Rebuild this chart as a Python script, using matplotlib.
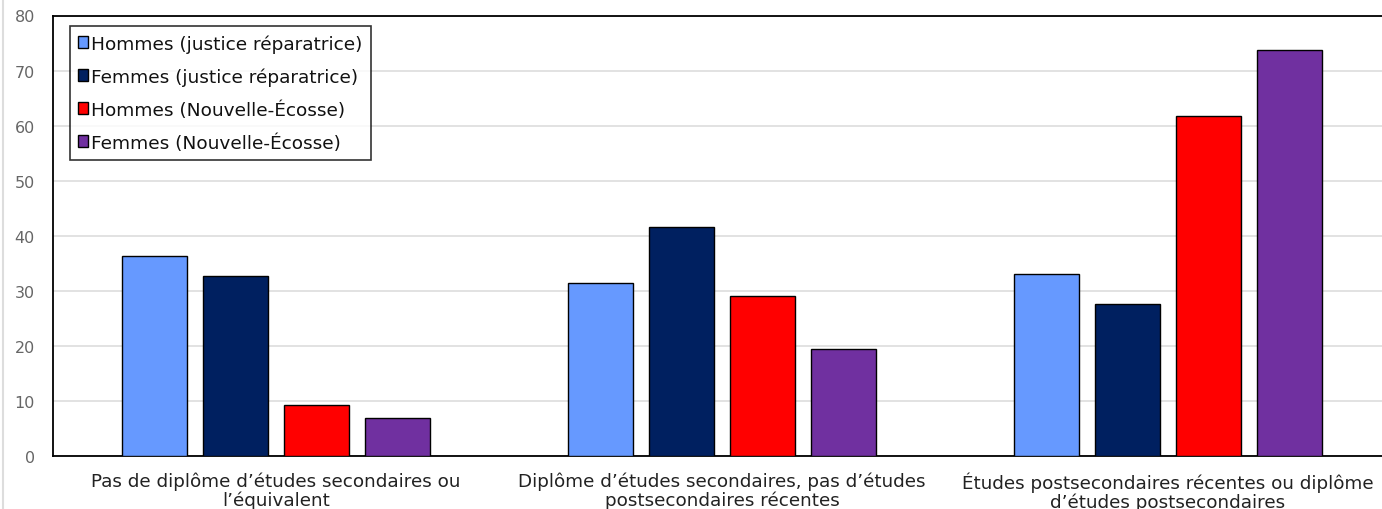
import matplotlib.pyplot as plt
import numpy as np
from matplotlib.lines import Line2D

# Niveau de scolarité (%)
categories = [
    "Pas de diplôme d\u2019études secondaires ou\nl\u2019équivalent",
    "Diplôme d\u2019études secondaires, pas d\u2019études\npostsecondaires récentes",
    "Études postsecondaires récentes ou diplôme\nd\u2019études postsecondaires",
]
series_names = [
    "Hommes (justice réparatrice)",
    "Femmes (justice réparatrice)",
    "Hommes (Nouvelle-Écosse)",
    "Femmes (Nouvelle-Écosse)",
]
hommes_jr = [36.4, 31.5, 33.1]
femmes_jr = [32.7, 41.5, 27.6]
hommes_ne = [9.3, 29.1, 61.8]
femmes_ne = [6.9, 19.5, 73.8]
yticks = [0, 10, 20, 30, 40, 50, 60, 70, 80]

series = [hommes_jr, femmes_jr, hommes_ne, femmes_ne]
colors = ["#6699FF", "#002060", "#FF0000", "#7030A0"]

plt.rcParams['font.family'] = ['DejaVu Sans']

fig = plt.figure(figsize=(13.82, 5.10), dpi=100)
ax = fig.add_axes([53 / 1382, 1 - 457 / 510, 1338 / 1382, 440.5 / 510])

x = np.arange(len(categories))
step = 0.1816
width = 0.146
for i, (vals, col, name) in enumerate(zip(series, colors, series_names)):
    ax.bar(x + (i - 1.5) * step, vals, width, color=col, edgecolor='black',
           linewidth=1.0, label=name, zorder=3)

ax.set_xlim(-0.5, 2.5)
ax.set_ylim(0, 80)
ax.set_yticks(yticks)
ax.set_xticks(x)
ax.set_xticklabels(categories, fontsize=13.2, color='#222222', linespacing=1.02)
ax.tick_params(axis='y', length=0, labelsize=11.5, labelcolor='#666666', pad=13)
ax.tick_params(axis='x', length=0, pad=11)
ax.grid(axis='y', color='#DDDDDD', linewidth=1.2, zorder=0)
ax.set_axisbelow(True)

for side in ['left', 'bottom', 'top']:
    ax.spines[side].set_color('black')
    ax.spines[side].set_linewidth(1.3)
ax.spines['right'].set_visible(False)

leg = ax.legend(loc='upper left', bbox_to_anchor=(70 / 1382, 1 - 27 / 510),
                bbox_transform=fig.transFigure, fontsize=13.3, frameon=True,
                fancybox=False, edgecolor='black', handlelength=0.55,
                handleheight=0.6, handletextpad=0.15, borderpad=0.45,
                labelspacing=0.78, borderaxespad=0)
leg.get_frame().set_linewidth(1.2)
for t in leg.get_texts():
    t.set_color('#111111')

# bordure grise à gauche
fig.add_artist(Line2D([3 / 1382, 3 / 1382], [0, 1], color='#DDDDDD',
                      linewidth=1.5, transform=fig.transFigure))

fig.savefig('out.png', dpi=100)
